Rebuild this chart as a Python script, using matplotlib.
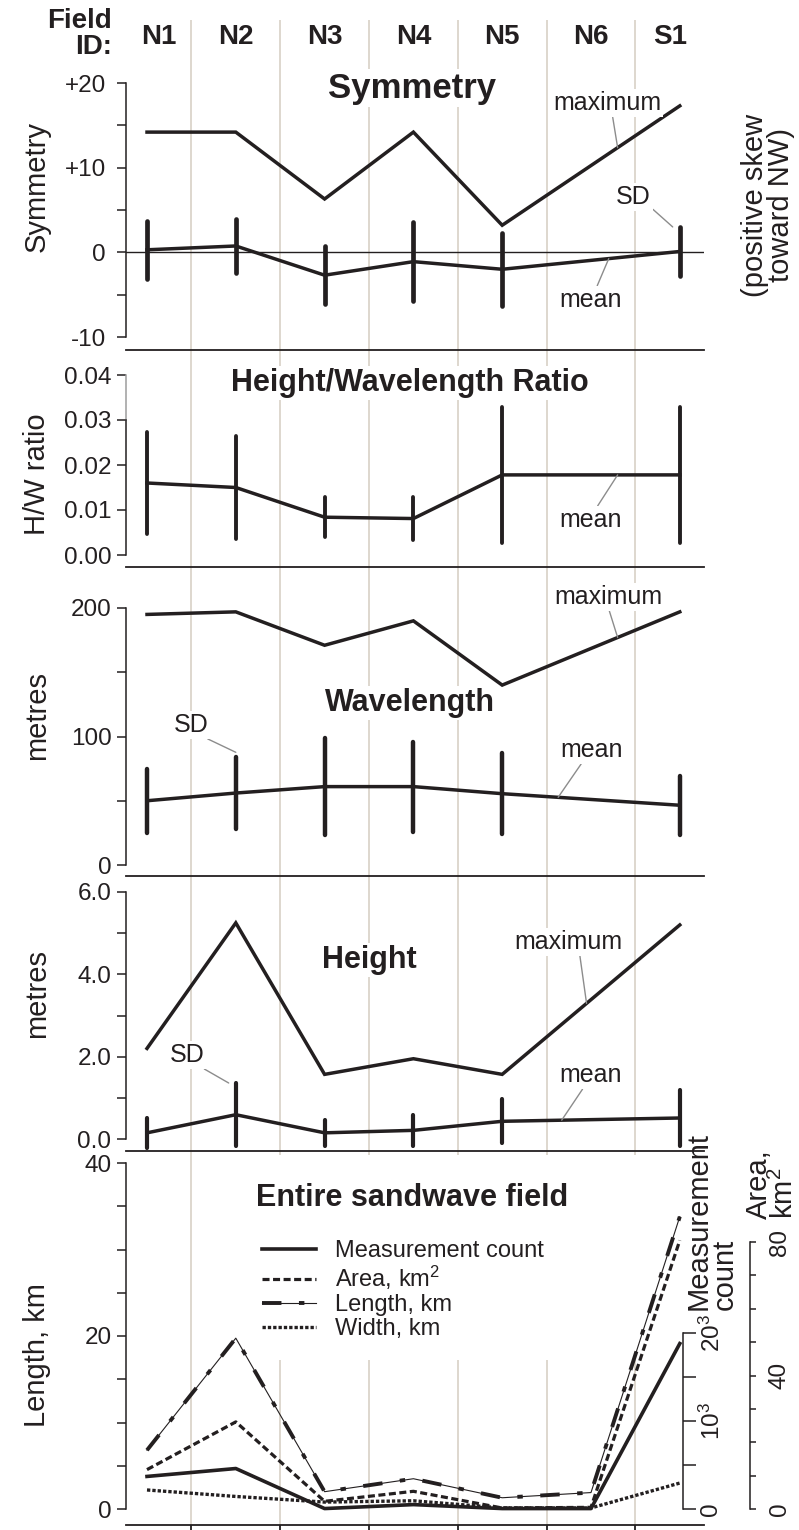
import numpy as np
import matplotlib
matplotlib.use("Agg")
from matplotlib import pyplot as plt
from matplotlib.patches import Rectangle
from matplotlib.legend_handler import HandlerTuple
from matplotlib.transforms import blended_transform_factory

plt.rcParams["font.family"] = ["Liberation Sans", "DejaVu Sans"]
plt.rcParams["mathtext.fontset"] = "custom"
plt.rcParams["mathtext.rm"] = "Liberation Sans"
plt.rcParams["mathtext.default"] = "regular"

nan = np.nan

# ---- data -------------------------------------------------------------
fields = ["N1", "N2", "N3", "N4", "N5", "N6", "S1"]
xpos = np.arange(len(fields))

sym_max = [14.2, 14.2, 6.3, 14.2, 3.2, nan, 17.3]
sym_mean = [0.3, 0.75, -2.7, -1.1, -2.0, nan, 0.1]
sym_sd = [3.4, 3.2, 3.4, 4.7, 4.3, nan, 2.9]

hw_mean = [0.0160, 0.0150, 0.0084, 0.0081, 0.0178, nan, 0.0178]
hw_sd = [0.0113, 0.0115, 0.0044, 0.0048, 0.0152, nan, 0.0152]

wl_max = [195, 197, 171, 190, 140, nan, 197]
wl_mean = [50, 56, 61, 61, 55.5, nan, 46.5]
wl_sd = [25, 27.7, 37.7, 35, 31.7, nan, 22.8]

ht_max = [2.2, 5.25, 1.57, 1.95, 1.57, nan, 5.2]
ht_mean = [0.15, 0.59, 0.15, 0.21, 0.43, nan, 0.51]
ht_sd = [0.36, 0.77, 0.32, 0.38, 0.53, nan, 0.69]

count_k = [3.7, 4.6, 0.05, 0.5, 0.05, 0.05, 18.8]      # thousands
area_km2 = [11.8, 26.1, 2.3, 5.3, 0.3, 0.5, 80.5]
length_km = [6.8, 19.75, 2.0, 3.5, 1.3, 1.9, 33.8]
width_km = [2.2, 1.45, 0.8, 0.95, 0.12, 0.12, 3.0]

# ---- layout (pixels) --------------------------------------------------
W_PX, H_PX, DPI = 799, 1530, 100
LEFT_PX, RIGHT_PX = 126, 704
X0_PX, DX_PX = 147, 88.8
X_LO = (LEFT_PX - X0_PX) / DX_PX
X_HI = (RIGHT_PX - X0_PX) / DX_PX

INK = "#231f20"
GRID = "#d4cdc1"
LEAD = "#8c8c8c"
TICK_FS = 17.5
NOTE_FS = 18
TITLE_FS = 22
WHITE = dict(facecolor="white", edgecolor="none", pad=1.5)

plt.rcParams["text.color"] = INK
plt.rcParams["axes.edgecolor"] = INK
plt.rcParams["xtick.color"] = INK
plt.rcParams["ytick.color"] = INK

fig = plt.figure(figsize=(W_PX / DPI, H_PX / DPI), dpi=DPI)


def fx(px):
    return px / W_PX


def fy(py):
    return 1 - py / H_PX


# background axes: field separators running through every panel
bg = fig.add_axes([fx(LEFT_PX), 0, fx(RIGHT_PX - LEFT_PX), 1])
bg.set_xlim(X_LO, X_HI)
bg.set_ylim(H_PX, 0)
bg.axis("off")
bounds = np.arange(0.5, len(fields) - 1)
bg.vlines(bounds, 20, 1525, color=GRID, lw=1.1)

# field id header
edges = np.concatenate([[X_LO], bounds, [X_HI]])
for name, c in zip(fields, (edges[:-1] + edges[1:]) / 2):
    bg.text(c, 37, name, ha="center", va="center", fontsize=20, fontweight="bold")
fig.text(fx(112), fy(34), "Field\nID:", ha="right", va="center", fontsize=20,
         fontweight="bold", linespacing=0.95)


def make_panel(top, bottom, v_hi, p_hi, v_lo, p_lo):
    ax = fig.add_axes([fx(LEFT_PX), fy(bottom), fx(RIGHT_PX - LEFT_PX),
                       (bottom - top) / H_PX])
    k = (p_lo - p_hi) / (v_hi - v_lo)
    ax.set_ylim(v_lo - (bottom - p_lo) / k, v_hi + (p_hi - top) / k)
    ax.set_xlim(X_LO, X_HI)
    ax.patch.set_visible(False)
    for side in ("top", "right"):
        ax.spines[side].set_visible(False)
    ax.spines["left"].set_bounds(v_lo, v_hi)
    ax.spines["left"].set_linewidth(1.1)
    ax.spines["bottom"].set_linewidth(1.3)
    ax.set_xticks([])
    ax.tick_params(axis="y", which="both", direction="out", length=6.5,
                   width=1.1, labelsize=TICK_FS, pad=4)
    return ax


def valid(vals):
    v = np.asarray(vals, dtype=float)
    keep = ~np.isnan(v)
    return xpos[keep], v[keep]


def draw_line(ax, vals, lw=2.5):
    x, y = valid(vals)
    ax.plot(x, y, color=INK, lw=lw, solid_joinstyle="miter", zorder=3)
    return x, y


def draw_sd(ax, mean, sd, lw=3.2):
    x, m = valid(mean)
    _, s = valid(sd)
    ax.vlines(x, m - s, m + s, color=INK, lw=lw, capstyle="round", zorder=3)


def note(ax, text, xy, xytext, relpos):
    ax.annotate(text, xy=xy, xytext=xytext, ha="center", va="center",
                fontsize=NOTE_FS, bbox=WHITE, zorder=4,
                arrowprops=dict(arrowstyle="-", color=LEAD, lw=1.0,
                                shrinkA=0, shrinkB=0, relpos=relpos))


def title(ax, text, x, y, size=TITLE_FS):
    ax.text(x, y, text, ha="center", va="center", fontsize=size,
            fontweight="bold", bbox=WHITE, zorder=4)


def ylabel(text, px, py):
    fig.text(fx(px), fy(py), text, rotation=90, ha="center", va="center",
             fontsize=21)


# ---- symmetry ---------------------------------------------------------
ax1 = make_panel(60, 350, 20, 83, -10, 337)
ax1.set_yticks([20, 10, 0, -10], ["+20", "+10", "0", "-10"])
ax1.set_yticks([15, 5, -5], minor=True)
ax1.tick_params(axis="y", pad=8)
ax1.axhline(0, color=INK, lw=1.0, zorder=2)
mx, my = draw_line(ax1, sym_max)
ex, ey = draw_line(ax1, sym_mean)
draw_sd(ax1, sym_mean, sym_sd, lw=3.4)
title(ax1, "Symmetry", 2.98, 19.4, size=25)
note(ax1, "maximum", (5.3, np.interp(5.3, mx, my)), (5.18, 17.6), (0.55, 0))
note(ax1, "SD", (xpos[6] - 0.08, sym_mean[6] + sym_sd[6]), (5.48, 6.5), (0.9, 0.2))
note(ax1, "mean", (5.2, np.interp(5.2, ex, ey)), (4.99, -5.6), (0.6, 1))
ylabel("Symmetry", 37, 186)
fig.text(fx(768), fy(205), "(positive skew\ntoward NW)", rotation=90,
         ha="center", va="center", fontsize=21, linespacing=0.95)

# ---- height / wavelength ratio ---------------------------------------
ax2 = make_panel(360, 567, 0.04, 375, 0.0, 555)
ax2.set_yticks([0, 0.01, 0.02, 0.03, 0.04],
               ["0.00", "0.01", "0.02", "0.03", "0.04"])
ax2.spines["left"].set_bounds(0, 0.03)
spine_x = blended_transform_factory(ax2.transAxes, ax2.transData)
ax2.plot([0, 0], [0.03, 0.04], color="#9d9d9d", lw=1.1, transform=spine_x,
         clip_on=False)
ax2.yaxis.get_major_ticks()[4].tick1line.set_color("#9d9d9d")
ex, ey = draw_line(ax2, hw_mean)
draw_sd(ax2, hw_mean, hw_sd, lw=2.8)
title(ax2, "Height/Wavelength Ratio", 2.96, 0.0382)
note(ax2, "mean", (5.3, np.interp(5.3, ex, ey)), (4.99, 0.0078), (0.6, 1))
ylabel("H/W ratio", 37, 474)

# ---- wavelength -------------------------------------------------------
ax3 = make_panel(585, 876, 200, 608, 0, 865)
ax3.set_yticks([0, 100, 200], ["0", "100", "200"])
ax3.set_yticks([50, 150], minor=True)
mx, my = draw_line(ax3, wl_max)
ex, ey = draw_line(ax3, wl_mean)
draw_sd(ax3, wl_mean, wl_sd, lw=3.2)
title(ax3, "Wavelength", 2.96, 126)
note(ax3, "maximum", (5.3, np.interp(5.3, mx, my)), (5.2, 208.5), (0.5, 0))
note(ax3, "SD", (xpos[1], wl_mean[1] + wl_sd[1] + 4), (0.5, 109), (0.85, 0))
note(ax3, "mean", (4.63, np.interp(4.63, ex, ey)), (5.01, 89.5), (0.35, 0))
ylabel("metres", 37, 716)

# ---- height -----------------------------------------------------------
ax4 = make_panel(880, 1151, 6.0, 892, 0.0, 1139)
ax4.set_yticks([0, 2, 4, 6], ["0.0", "2.0", "4.0", "6.0"])
ax4.set_yticks([1, 3, 5], minor=True)
mx, my = draw_line(ax4, ht_max)
ex, ey = draw_line(ax4, ht_mean)
draw_sd(ax4, ht_mean, ht_sd, lw=3.0)
title(ax4, "Height", 2.5, 4.35)
note(ax4, "maximum", (4.95, np.interp(4.95, mx, my)), (4.75, 4.79), (0.6, 0))
note(ax4, "SD", (xpos[1] - 0.08, ht_mean[1] + ht_sd[1]), (0.45, 2.04), (0.9, 0))
note(ax4, "mean", (4.67, np.interp(4.67, ex, ey)), (4.99, 1.55), (0.4, 0))
ylabel("metres", 37, 994)

# ---- entire sandwave field -------------------------------------------
ax5 = make_panel(1155, 1525, 40, 1163, 0, 1509)
ax5.set_yticks([0, 20, 40], ["0", "20", "40"])
ax5.set_yticks([5, 10, 15, 25, 30, 35], minor=True)
ax5.set_xticks(bounds)
ax5.tick_params(axis="x", direction="out", length=9, width=1.3,
                labelbottom=False)
ax5.add_patch(Rectangle((fx(250), fy(1360)), fx(400), (1360 - 1153) / H_PX,
                        transform=fig.transFigure, facecolor="white",
                        edgecolor="none", zorder=0.5))
title(ax5, "Entire sandwave field", 2.99, 35.9)
ylabel("Length, km", 37, 1355)


def twin_axis(frac_x, bottom_px, v_hi, p_hi, p_lo):
    tw = ax5.twinx()
    k = (p_lo - p_hi) / v_hi
    tw.set_ylim(-(bottom_px - p_lo) / k, v_hi + (p_hi - 1155) / k)
    tw.patch.set_visible(False)
    for side in ("top", "left", "bottom"):
        tw.spines[side].set_visible(False)
    tw.spines["right"].set_position(("axes", frac_x))
    tw.spines["right"].set_bounds(0, v_hi)
    tw.spines["right"].set_linewidth(1.1)
    return tw


ax_c = twin_axis((683 - LEFT_PX) / (RIGHT_PX - LEFT_PX), 1525, 20, 1333, 1509)
ax_c.set_yticks([0, 10, 20], ["0", "10$^3$", "20$^3$"])
ax_c.set_yticks([5, 15], minor=True)
ax_c.tick_params(axis="y", which="both", direction="out", length=9, width=1.1,
                 labelsize=TICK_FS, pad=3, labelrotation=90)

ax_a = twin_axis((750 - LEFT_PX) / (RIGHT_PX - LEFT_PX), 1525, 80, 1242, 1509)
ax_a.set_yticks([0, 40, 80], ["0", "40", "80"])
ax_a.set_yticks([10, 20, 30, 50, 60, 70], minor=True)
ax_a.tick_params(axis="y", which="both", direction="out", length=4.5, width=1.1,
                 labelsize=TICK_FS, pad=9, labelrotation=90)
for tw in (ax_c, ax_a):
    for lab in tw.get_yticklabels():
        lab.set_verticalalignment("center")

ln_count, = ax_c.plot(xpos, count_k, color=INK, lw=2.6, zorder=3)
ln_area, = ax_a.plot(xpos, area_km2, color=INK, lw=2.3, ls=(0, (2.2, 1.1)),
                     zorder=3)
ln_len_thin, = ax5.plot(xpos, length_km, color=INK, lw=0.8, zorder=3)
ln_len_thick, = ax5.plot(xpos, length_km, color=INK, lw=2.8,
                         ls=(0, (5, 4.5, 1.4, 4.5)), zorder=3)
ln_width, = ax5.plot(xpos, width_km, color=INK, lw=2.4, ls=(0, (1.0, 0.6)),
                     zorder=3)

fig.text(fx(712), fy(1310), "Measurement\ncount", rotation=90, ha="center",
         va="bottom", fontsize=21, linespacing=0.9, multialignment="left")
fig.text(fx(772), fy(1219), "Area,\nkm$^2$", rotation=90, ha="center",
         va="bottom", fontsize=21, linespacing=0.9, multialignment="left")

ax5.legend([ln_count, ln_area, (ln_len_thin, ln_len_thick), ln_width],
           ["Measurement count", "Area, km$^2$", "Length, km", "Width, km"],
           handler_map={tuple: HandlerTuple(ndivide=1)},
           loc="upper left", bbox_to_anchor=(fx(262), fy(1240)),
           bbox_transform=fig.transFigure, frameon=False, fontsize=17,
           handlelength=2.3, handletextpad=0.8, labelspacing=0.08,
           borderpad=0, borderaxespad=0)

fig.savefig("out.png", dpi=DPI)
